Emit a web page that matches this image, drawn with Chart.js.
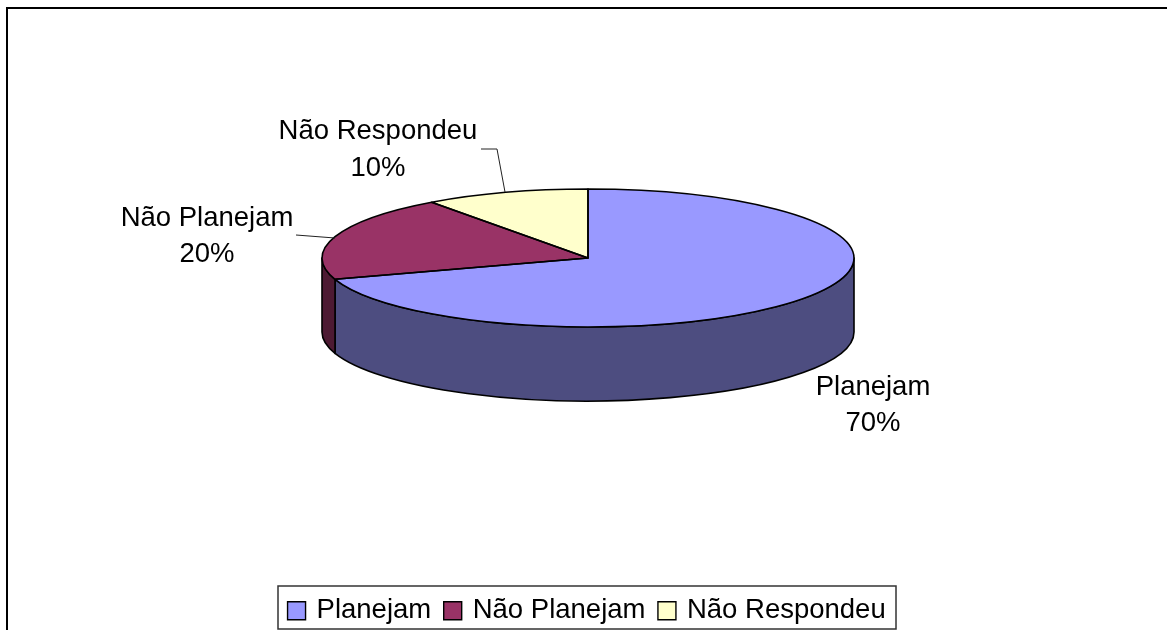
<!DOCTYPE html>
<html>
<head>
<meta charset="utf-8">
<style>html,body{margin:0;padding:0;background:#fff;overflow:hidden}canvas{display:block}</style>
<script src="https://cdn.jsdelivr.net/npm/chart.js@4/dist/chart.umd.min.js"></script>
</head>
<body>
<canvas id="c" width="1167" height="630"></canvas>
<script>
const categories = ["Planejam", "Não Planejam", "Não Respondeu"];
const values = [70, 20, 10];
const percentLabels = ["70%", "20%", "10%"];
const topColors = ["#9999FF", "#993366", "#FFFFCC"];
const sideColors = ["#4D4D80", "#4D1A33", "#80806A"];

const FONT = '27.5px "Liberation Sans", Arial, sans-serif';
const pieGeom = { cx: 588, cy: 258, radius: 266, ry: 69, depth: 74 };
const labelGeom = [
  { x: 873, y: 387, dy: 36, leader: null },
  { x: 207, y: 218, dy: 36, leader: [[296, 235], [335, 238]] },
  { x: 378, y: 131, dy: 37, leader: [[481, 149], [497, 149], [505, 192]] }
];

const pie3d = {
  id: "pie3d",
  beforeDraw(chart) {
    const ctx = chart.ctx;
    ctx.save();
    ctx.fillStyle = "#fff";
    ctx.fillRect(0, 0, chart.width, chart.height);
    ctx.strokeStyle = "#000";
    ctx.lineWidth = 2;
    ctx.beginPath();
    ctx.moveTo(7, chart.height);
    ctx.lineTo(7, 8);
    ctx.lineTo(chart.width, 8);
    ctx.stroke();
    const hb = chart.legend.legendHitBoxes;
    const left = Math.round(hb[0].left - 12.75), right = Math.round(hb[2].left + hb[2].width + 10);
    ctx.lineWidth = 1.5;
    ctx.strokeStyle = "#333";
    ctx.strokeRect(left, 586, right - left, 43);
    ctx.restore();
  },
  beforeDatasetsDraw(chart) {
    const ctx = chart.ctx, g = pieGeom;
    const arcs = chart.getDatasetMeta(0).data;
    const k = g.ry / g.radius;
    ctx.save();
    ctx.lineWidth = 1.6;
    ctx.strokeStyle = "#000";
    ctx.lineJoin = "round";
    arcs.forEach((a, i) => {
      const s = Math.max(a.startAngle, 0), e = Math.min(a.endAngle, Math.PI);
      if (e <= s) return;
      const rx = a.outerRadius, ry = rx * k;
      ctx.beginPath();
      ctx.ellipse(g.cx, g.cy, rx, ry, 0, s, e);
      ctx.ellipse(g.cx, g.cy + g.depth, rx, ry, 0, e, s, true);
      ctx.closePath();
      ctx.fillStyle = sideColors[i];
      ctx.fill();
      ctx.stroke();
    });
    ctx.restore();
    ctx.save();
    const first = arcs[0];
    ctx.setTransform(1, 0, 0, k, g.cx - first.x, g.cy - first.y * k);
  },
  afterDatasetsDraw(chart) {
    const ctx = chart.ctx, g = pieGeom;
    const arcs = chart.getDatasetMeta(0).data;
    const k = g.ry / g.radius;
    ctx.restore();
    ctx.save();
    ctx.lineWidth = 1.6;
    ctx.strokeStyle = "#000";
    ctx.lineJoin = "round";
    arcs.forEach(a => {
      const rx = a.outerRadius, ry = rx * k;
      ctx.beginPath();
      ctx.moveTo(g.cx, g.cy);
      ctx.ellipse(g.cx, g.cy, rx, ry, 0, a.startAngle, a.endAngle);
      ctx.closePath();
      ctx.stroke();
    });
    ctx.fillStyle = "#000";
    ctx.font = FONT;
    ctx.textAlign = "center";
    ctx.textBaseline = "middle";
    labelGeom.forEach((p, i) => {
      ctx.fillText(categories[i], p.x, p.y);
      ctx.fillText(percentLabels[i], p.x, p.y + p.dy);
      if (p.leader) {
        ctx.lineWidth = 1;
        ctx.strokeStyle = "#222";
        ctx.beginPath();
        p.leader.forEach((q, j) => j ? ctx.lineTo(q[0], q[1]) : ctx.moveTo(q[0], q[1]));
        ctx.stroke();
      }
    });
    ctx.restore();
  }
};

new Chart(document.getElementById("c"), {
  type: "doughnut",
  plugins: [pie3d],
  data: {
    labels: categories,
    datasets: [{
      data: values,
      backgroundColor: topColors,
      borderColor: "#000",
      borderWidth: 0,
      radius: pieGeom.radius,
      cutout: 0,
      clip: false
    }]
  },
  options: {
    responsive: false,
    animation: false,
    devicePixelRatio: 1,
    cutout: 0,
    layout: { padding: { left: 9, right: 0, top: 0, bottom: -4.5 } },
    plugins: {
      tooltip: { enabled: false },
      legend: {
        display: true,
        position: "bottom",
        fullSize: false,
        labels: {
          color: "#000",
          font: { family: '"Liberation Sans", Arial, sans-serif', size: 27.5, lineHeight: 1 },
          usePointStyle: true,
          pointStyle: "rect",
          boxWidth: 12.5,
          boxHeight: 18,
          padding: 15.25,
          generateLabels(chart) {
            return categories.map((t, i) => ({
              text: t, fillStyle: topColors[i], strokeStyle: "#000", lineWidth: 1.4, index: i, hidden: false, pointStyle: "rect"
            }));
          }
        }
      }
    }
  }
});
</script>
</body>
</html>
